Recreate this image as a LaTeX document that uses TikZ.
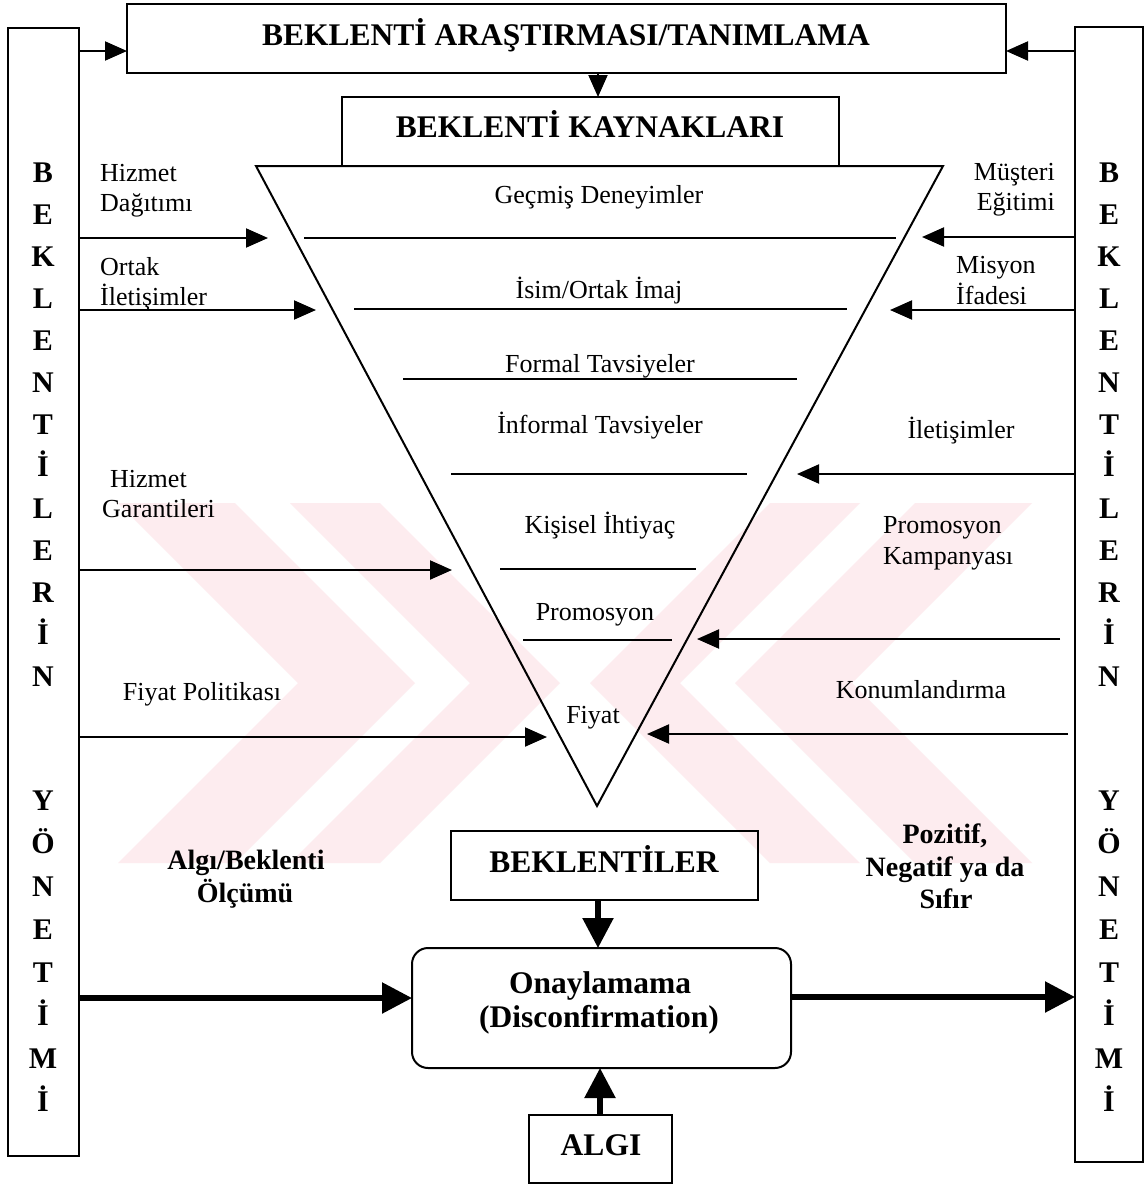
\documentclass[tikz,border=0pt]{standalone}
\usepackage{fontspec}
\setmainfont{Liberation Serif}
\usetikzlibrary{arrows.meta}
\definecolor{wm}{RGB}{253,236,239}
\begin{document}
\begin{tikzpicture}[x=1pt,y=-1pt,
  lbl/.style={font=\fontsize{26}{30}\selectfont, inner sep=0pt, anchor=base},
  lblw/.style={lbl, anchor=base west},
  lble/.style={lbl, anchor=base east},
  blbl/.style={font=\fontsize{28}{33}\selectfont\bfseries, inner sep=0pt, anchor=base},
  hdr/.style={font=\fontsize{31.5}{34}\selectfont\bfseries, inner sep=0pt, anchor=base},
  side/.style={font=\fontsize{30}{33}\selectfont\bfseries, inner sep=0pt, anchor=base},
  box/.style={draw, line width=2pt, inner sep=0pt, outer sep=0pt},
  ln/.style={line width=2pt},
  arr/.style={line width=2pt, -{Triangle[length=22pt,width=19pt]}},
  tarr/.style={line width=5.5pt, -{Triangle[length=30pt,width=30pt]}},
]
\fill[white] (0,0) rectangle (1147,1186);
\useasboundingbox (0,0) rectangle (1147,1186);

% faint watermark
\foreach \a/\b in {118/235, 290/380}{
  \fill[wm] (\a,503) -- (\b,503) -- ({\b+180},683) -- (\b,863) -- (\a,863) -- ({\a+180},683) -- cycle;
}
\foreach \a/\b in {915/1032, 770/860}{
  \fill[wm] (\a,503) -- (\b,503) -- ({\b-180},683) -- (\b,863) -- (\a,863) -- ({\a-180},683) -- cycle;
}

% side boxes
\node[box, minimum width=71pt, minimum height=1128pt] (lbox) at (43.5,592) {};
\node[box, minimum width=68pt, minimum height=1135pt] (rbox) at (1109,594.5) {};
\foreach \ch [count=\i] in {B,E,K,L,E,N,T,İ,L,E,R,İ,N}{
  \node[side] (ls\i) at (43,{182+42*(\i-1)}) {\ch};
  \node[side] (rs\i) at (1109,{182+42*(\i-1)}) {\ch};
}
\foreach \ch [count=\i] in {Y,Ö,N,E,T,İ,M,İ}{
  \node[side] (ly\i) at (43,{810+43*(\i-1)}) {\ch};
  \node[side] (ry\i) at (1109,{810+43*(\i-1)}) {\ch};
}

% top boxes
\node[box, minimum width=879pt, minimum height=69pt] (title) at (566.5,38.5) {};
\node[hdr] (titletxt) at (566,45) {BEKLENTİ ARAŞTIRMASI/TANIMLAMA};
\node[box, minimum width=497pt, minimum height=69pt] (kay) at (590.5,131.5) {};
\node[hdr] (kaytxt) at (590,137) {BEKLENTİ KAYNAKLARI};

\draw[arr] (lbox.east |- 0,51) -- (title.west |- 0,51);
\draw[arr] (rbox.west |- 0,51) -- (title.east |- 0,51);
\draw[arr] (598,0 |- title.south) -- (598,0 |- kay.north);

% funnel
\coordinate (tl) at (256,166);
\coordinate (tr) at (943,166);
\coordinate (apex) at (597,806);
\draw[ln, line join=miter] (tl) -- (tr) -- (apex) -- cycle;
\draw[ln] (304,238) -- (896,238);
\draw[ln] (354,309) -- (847,309);
\draw[ln] (403,379) -- (797,379);
\draw[ln] (451,474) -- (747,474);
\draw[ln] (500,569) -- (696,569);
\draw[ln] (523,640) -- (672,640);

\node[lbl] (f1) at (599,203) {Geçmiş Deneyimler};
\node[lbl] (f2) at (599,298) {İsim/Ortak İmaj};
\node[lbl] (f3) at (600,372) {Formal Tavsiyeler};
\node[lbl] (f4) at (600,433) {İnformal Tavsiyeler};
\node[lbl] (f5) at (600,533) {Kişisel İhtiyaç};
\node[lbl] (f6) at (595,620) {Promosyon};
\node[lbl] (f7) at (593,723) {Fiyat};

% left inputs
\coordinate (la1) at (268,238);
\coordinate (la2) at (316,310);
\coordinate (la3) at (452,570);
\coordinate (la4) at (547,737);
\draw[arr] (lbox.east |- la1) -- (la1);
\draw[arr] (lbox.east |- la2) -- (la2);
\draw[arr] (lbox.east |- la3) -- (la3);
\draw[arr] (lbox.east |- la4) -- (la4);
\node[lblw] (l1a) at (100,181) {Hizmet};
\node[lblw] (l1b) at (100,211) {Dağıtımı};
\node[lblw] (l2a) at (100,275) {Ortak};
\node[lblw] (l2b) at (100,305) {İletişimler};
\node[lblw] (l3a) at (110,487) {Hizmet};
\node[lblw] (l3b) at (102,517) {Garantileri};
\node[lbl] (l4) at (202,700) {Fiyat Politikası};

% right inputs
\coordinate (ra1) at (922,237);
\coordinate (ra2) at (890,310);
\coordinate (ra3) at (797,474);
\coordinate (ra4) at (697,639);
\coordinate (ra5) at (647,734);
\coordinate (rs4) at (1060,639);
\coordinate (rs5) at (1068,734);
\draw[arr] (rbox.west |- ra1) -- (ra1);
\draw[arr] (rbox.west |- ra2) -- (ra2);
\draw[arr] (rbox.west |- ra3) -- (ra3);
\draw[arr] (rs4) -- (ra4);
\draw[arr] (rs5) -- (ra5);
\node[lble] (r1a) at (1055,180) {Müşteri};
\node[lble] (r1b) at (1055,210) {Eğitimi};
\node[lblw] (r2a) at (956,273) {Misyon};
\node[lblw] (r2b) at (956,304) {İfadesi};
\node[lbl] (r3) at (961,438) {İletişimler};
\node[lblw] (r4a) at (883,533) {Promosyon};
\node[lblw] (r4b) at (883,564) {Kampanyası};
\node[lbl] (r5) at (921,698) {Konumlandırma};

% bottom part
\node[box, minimum width=307pt, minimum height=69pt] (bek) at (604.5,865.5) {};
\node[hdr] (bektxt) at (604,872) {BEKLENTİLER};
\node[box, rounded corners=16pt, minimum width=379pt, minimum height=120pt] (onay) at (601.5,1008) {};
\node[hdr] (onay1) at (600,993) {Onaylamama};
\node[hdr] (onay2) at (599,1027) {(Disconfirmation)};
\node[box, minimum width=143pt, minimum height=68pt] (algi) at (600.5,1149) {};
\node[hdr] (algitxt) at (601,1155) {ALGI};

\draw[tarr] (598,0 |- bek.south) -- (598,0 |- onay.north);
\draw[tarr] (600,0 |- algi.north) -- (600,0 |- onay.south);
\draw[tarr] (lbox.east |- 0,998) -- (onay.west |- 0,998);
\draw[tarr] (onay.east |- 0,997) -- (rbox.west |- 0,997);

\node[blbl] (m1) at (246,869) {Algı/Beklenti};
\node[blbl] (m2) at (245,902) {Ölçümü};
\node[blbl] (p1) at (945,843) {Pozitif,};
\node[blbl] (p2) at (945,876) {Negatif ya da};
\node[blbl] (p3) at (946,908) {Sıfır};
\end{tikzpicture}
\end{document}
